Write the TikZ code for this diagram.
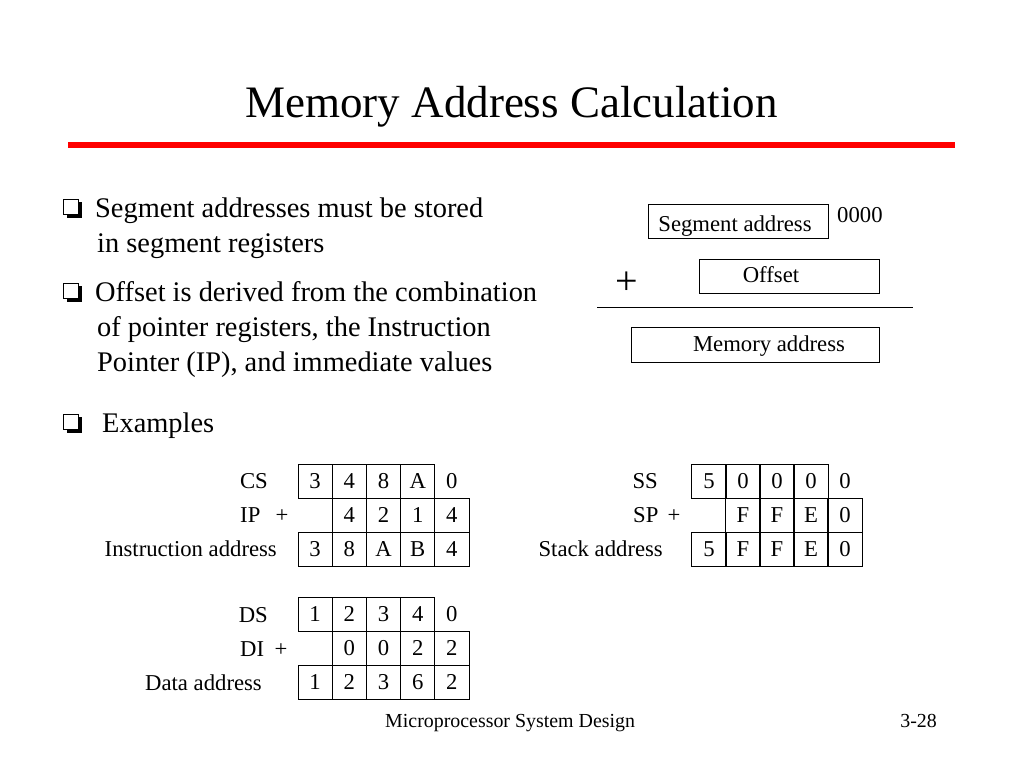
\documentclass[tikz,border=0pt]{standalone}
\usepackage{fontspec}
\setmainfont{Liberation Serif}
\definecolor{titlered}{HTML}{FF0000}
\tikzset{
  title/.style={font=\fontsize{45}{54}\selectfont, inner sep=0pt},
  bul/.style={font=\fontsize{28.4}{34}\selectfont, inner sep=0pt, anchor=base west},
  small/.style={font=\fontsize{22.7}{27}\selectfont, inner sep=0pt},
  foot/.style={font=\fontsize{19.9}{24}\selectfont, inner sep=0pt},
  cell/.style={draw, line width=0.9pt, minimum width=34.2pt, minimum height=34pt, inner sep=0pt, font=\fontsize{22.7}{27}\selectfont},
  nocell/.style={minimum width=34.2pt, minimum height=34pt, inner sep=0pt, font=\fontsize{22.7}{27}\selectfont},
  abox/.style={draw, line width=0.9pt, inner sep=0pt},
}
\newcommand\qbullet[3]{% name, x, baseline y
  \fill[black] (#2+3.5,#3-15) rectangle (#2+18.5,#3+1);
  \node[draw, fill=white, line width=0.9pt, minimum width=15pt, minimum height=15pt, inner sep=0pt, anchor=north west] (#1) at (#2,#3-18.5) {};
}
\begin{document}
\begin{tikzpicture}[x=1pt,y=-1pt]
\useasboundingbox[fill=white] (0,0) rectangle (1024,768);

% title
\node[title, anchor=base] (ttl) at (511.5,117) {Memory Address Calculation};
\draw[titlered, line width=6pt] (68,145) -- (955,145);

% bullets
\qbullet{b1}{63}{217}
\node[bul] (t1a) at (95,217) {Segment addresses must be stored};
\node[bul] (t1b) at (97,252) {in segment registers};
\qbullet{b2}{63}{301}
\node[bul] (t2a) at (95,301) {Offset is derived from the combination};
\node[bul] (t2b) at (97,336) {of pointer registers, the Instruction};
\node[bul] (t2c) at (97,371) {Pointer (IP), and immediate values};
\qbullet{b3}{63}{432}
\node[bul] (t3) at (102,432) {Examples};

% address scheme (top right)
\node[abox, minimum width=180pt, minimum height=34pt] (segbox) at (738,221) {};
\node[small, anchor=base] (segtxt) at (735,231) {Segment address};
\node[small, anchor=base west] (zeros) at (837,222) {0000};
\node[abox, minimum width=180pt, minimum height=34pt] (offbox) at (789,276) {};
\node[small, anchor=base] (offtxt) at (771,282) {Offset};
\node[font=\fontsize{40}{44}\selectfont, inner sep=0pt] (plus) at (627,283) {+};
\coordinate (sumL) at (597,307);
\coordinate (sumR) at (913,307);
\draw[line width=0.9pt] (sumL) -- (sumR);
\node[abox, minimum width=248pt, minimum height=35pt] (membox) at (755,344.5) {};
\node[small, anchor=base] (memtxt) at (769,351) {Memory address};

% CS + IP
\foreach \d [count=\i] in {3,4,8,A}
  \node[cell] (cs\i) at ({298+(\i-0.5)*34.2},481) {\d};
\node[nocell] (cs5) at ({298+4.5*34.2},481) {0};
\foreach \d [count=\i from 2] in {4,2,1,4}
  \node[cell] (ip\i) at ({298+(\i-0.5)*34.2},515) {\d};
\foreach \d [count=\i] in {3,8,A,B,4}
  \node[cell] (ia\i) at ({298+(\i-0.5)*34.2},549) {\d};
\node[small, anchor=base east] (cslbl) at (268,488) {CS};
\node[small, anchor=base west] (iplbl) at (240,522) {IP};
\node[small, anchor=base] (ipplus) at (282,522) {+};
\node[small, anchor=base east] (ialbl) at (277,556) {Instruction address};

% SS + SP
\foreach \d [count=\i] in {5,0,0,0}
  \node[cell] (ss\i) at ({692+(\i-0.5)*34},481) {\d};
\node[nocell] (ss5) at ({692+4.5*34},481) {0};
\foreach \d [count=\i from 2] in {F,F,E,0}
  \node[cell] (sp\i) at ({692+(\i-0.5)*34},515) {\d};
\foreach \d [count=\i] in {5,F,F,E,0}
  \node[cell] (sa\i) at ({692+(\i-0.5)*34},549) {\d};
\node[small, anchor=base east] (sslbl) at (658,488) {SS};
\node[small, anchor=base west] (splbl) at (633,522) {SP};
\node[small, anchor=base] (spplus) at (674,522) {+};
\node[small, anchor=base east] (salbl) at (663,556) {Stack address};

% DS + DI
\foreach \d [count=\i] in {1,2,3,4}
  \node[cell] (ds\i) at ({298+(\i-0.5)*34.2},614) {\d};
\node[nocell] (ds5) at ({298+4.5*34.2},614) {0};
\foreach \d [count=\i from 2] in {0,0,2,2}
  \node[cell] (di\i) at ({298+(\i-0.5)*34.2},648) {\d};
\foreach \d [count=\i] in {1,2,3,6,2}
  \node[cell] (da\i) at ({298+(\i-0.5)*34.2},682) {\d};
\node[small, anchor=base east] (dslbl) at (268,622) {DS};
\node[small, anchor=base west] (dilbl) at (240,656) {DI};
\node[small, anchor=base] (diplus) at (281,656) {+};
\node[small, anchor=base east] (dalbl) at (262,690) {Data address};

% footer
\node[foot, anchor=base west] (ftl) at (385,727) {Microprocessor System Design};
\node[foot, anchor=base east] (ftr) at (937,727) {3-28};
\end{tikzpicture}
\end{document}
